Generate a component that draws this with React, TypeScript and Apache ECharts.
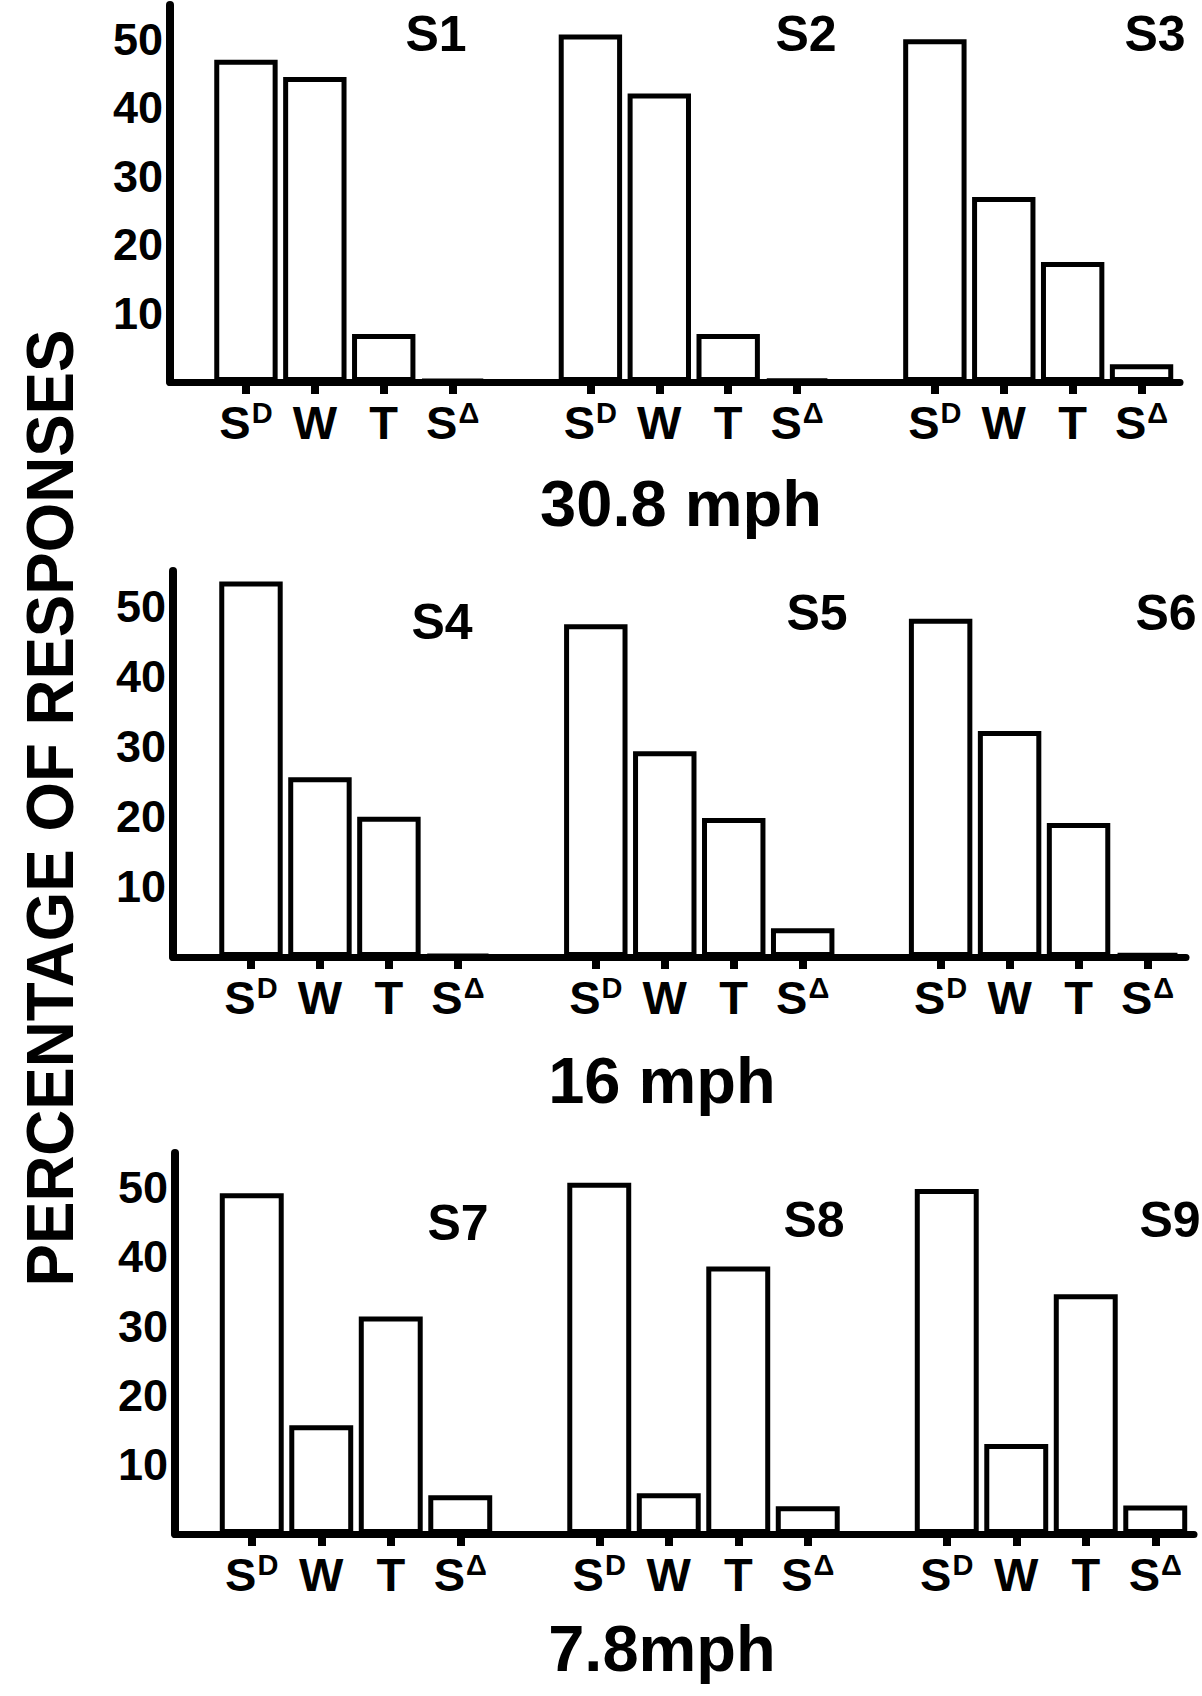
import React, { useEffect, useRef } from "react";
import * as echarts from "echarts";

// ---- data ----
const CATEGORIES = ["SD", "W", "T", "SΔ"];
const SUBJECTS = ["S1", "S2", "S3", "S4", "S5", "S6", "S7", "S8", "S9"];
const S1 = [47, 44.5, 7, 0.3];
const S2 = [50.7, 42.1, 7, 0.4];
const S3 = [50, 27, 17.5, 2.6];
const S4 = [53.5, 25.6, 20, 0.3];
const S5 = [47.4, 29.3, 19.8, 4.1];
const S6 = [48.2, 32.2, 19.1, 0.5];
const S7 = [49.2, 15.7, 31.4, 5.6];
const S8 = [50.7, 5.9, 38.6, 4];
const S9 = [49.8, 13, 34.6, 4.1];
const SUBJECT_VALUES = [S1, S2, S3, S4, S5, S6, S7, S8, S9];
const SPEEDS = ["30.8 mph", "16 mph", "7.8mph"];
const Y_TICKS = [10, 20, 30, 40, 50];
const Y_MAX = 55;
const Y_TITLE = "PERCENTAGE OF RESPONSES";

// ---- layout (px) ----
const ROWS = [
  { top: 5, bottom: 382, axisX: 170, barsLeft: 211.5, barsRight: 1176 },
  { top: 571, bottom: 957, axisX: 173, barsLeft: 216.5, barsRight: 1182 },
  { top: 1153, bottom: 1534, axisX: 175, barsLeft: 217, barsRight: 1190 },
];
const SUBJECT_POS = [
  [436, 34], [806, 34], [1155, 34],
  [442, 622], [817, 613], [1166, 613],
  [458, 1223], [814, 1220], [1170, 1220],
];
const SPEED_POS = [[681, 503], [662, 1080], [662, 1648]];

const FONT = "Liberation Sans";

export default function App() {
  const ref = useRef<HTMLDivElement>(null);
  useEffect(() => {
    document.body.style.margin = "0";
    if (!ref.current) return;
    const chart = echarts.init(ref.current, null, { renderer: "svg" });

    const grid: any[] = [];
    const xAxis: any[] = [];
    const yAxis: any[] = [];
    const series: any[] = [];

    ROWS.forEach((row, r) => {
      const h = row.bottom - row.top;
      // main grid: y axis + baseline
      grid.push({ left: row.axisX, top: row.top, width: row.barsRight + 4 - row.axisX, height: h });
      const mainIdx = grid.length - 1;
      xAxis.push({
        gridIndex: mainIdx, type: "value", min: 0, max: 1,
        axisLine: { show: true, onZero: false, lineStyle: { color: "#000", width: 7 } },
        axisTick: { show: false }, axisLabel: { show: false }, splitLine: { show: false },
      });
      yAxis.push({
        gridIndex: mainIdx, type: "value", min: 0, max: Y_MAX, interval: 10,
        axisLine: { show: true, lineStyle: { color: "#000", width: 8 } },
        axisTick: { show: false }, splitLine: { show: false },
        axisLabel: {
          margin: 7, color: "#000", fontSize: 45, fontWeight: "bold", fontFamily: FONT,
          formatter: (v: number) => (Y_TICKS.indexOf(v) >= 0 ? String(v) : ""),
        },
      });
      // bars grid
      grid.push({ left: row.barsLeft, top: row.top, width: row.barsRight - row.barsLeft, height: h });
      const barIdx = grid.length - 1;
      const cats: string[] = [];
      const vals: any[] = [];
      for (let g = 0; g < 3; g++) {
        const subj = r * 3 + g;
        CATEGORIES.forEach((c, i) => {
          cats.push(SUBJECTS[subj] + "|" + c);
          vals.push(SUBJECT_VALUES[subj][i]);
        });
        if (g < 2) {
          cats.push("gap" + g + "|");
          vals.push("-");
        }
      }
      xAxis.push({
        gridIndex: barIdx, type: "category", data: cats,
        axisLine: { show: false },
        axisTick: {
          show: true, alignWithLabel: true, length: 12,
          interval: (_i: number, v: string) => v.split("|")[1] !== "",
          lineStyle: { color: "#000", width: 8 },
        },
        axisLabel: {
          interval: 0, margin: 16, color: "#000",
          formatter: (v: string) => {
            const c = v.split("|")[1];
            if (c === "SD") return "{s|S}{sup|D}";
            if (c === "SΔ") return "{s|S}{sup|Δ}";
            if (c === "") return "";
            return "{s|" + c + "}";
          },
          rich: {
            s: { fontSize: 47, fontWeight: "bold", fontFamily: FONT, color: "#000", lineHeight: 48 },
            sup: { fontSize: 29, fontWeight: "bold", fontFamily: FONT, color: "#000", verticalAlign: "top", lineHeight: 48, padding: [0, 0, 20, 1] },
          },
        },
      });
      yAxis.push({ gridIndex: barIdx, type: "value", min: 0, max: Y_MAX, show: false });
      series.push({
        type: "bar", xAxisIndex: barIdx, yAxisIndex: barIdx, data: vals,
        barCategoryGap: "8%",
        itemStyle: { color: "#fff", borderColor: "#000", borderWidth: 5 },
      });
    });

    const graphic: any[] = [];
    SUBJECTS.forEach((s, i) => {
      graphic.push({
        type: "text", x: SUBJECT_POS[i][0], y: SUBJECT_POS[i][1],
        style: { text: s, fontSize: 50, fontWeight: "bold", fontFamily: FONT, fill: "#000", textAlign: "center", textVerticalAlign: "middle" },
      });
    });
    SPEEDS.forEach((s, i) => {
      graphic.push({
        type: "text", x: SPEED_POS[i][0], y: SPEED_POS[i][1],
        style: {
          text: s, fontSize: 65, fontWeight: "bold", fontFamily: FONT, fill: "#000", textAlign: "center",
          textVerticalAlign: "middle",
        },
      });
    });
    graphic.push({
      type: "text", x: 50, y: 808, rotation: Math.PI / 2, scaleX: 0.95,
      style: { text: Y_TITLE, fontSize: 67, fontWeight: "bold", fontFamily: FONT, fill: "#000", textAlign: "center", textVerticalAlign: "middle" },
    });

    chart.setOption({
      animation: false,
      backgroundColor: "#fff",
      grid, xAxis, yAxis, series, graphic,
    });
    return () => chart.dispose();
  }, []);
  return <div ref={ref} style={{ position: "absolute", left: 0, top: 0, width: 1202, height: 1696 }} />;
}
